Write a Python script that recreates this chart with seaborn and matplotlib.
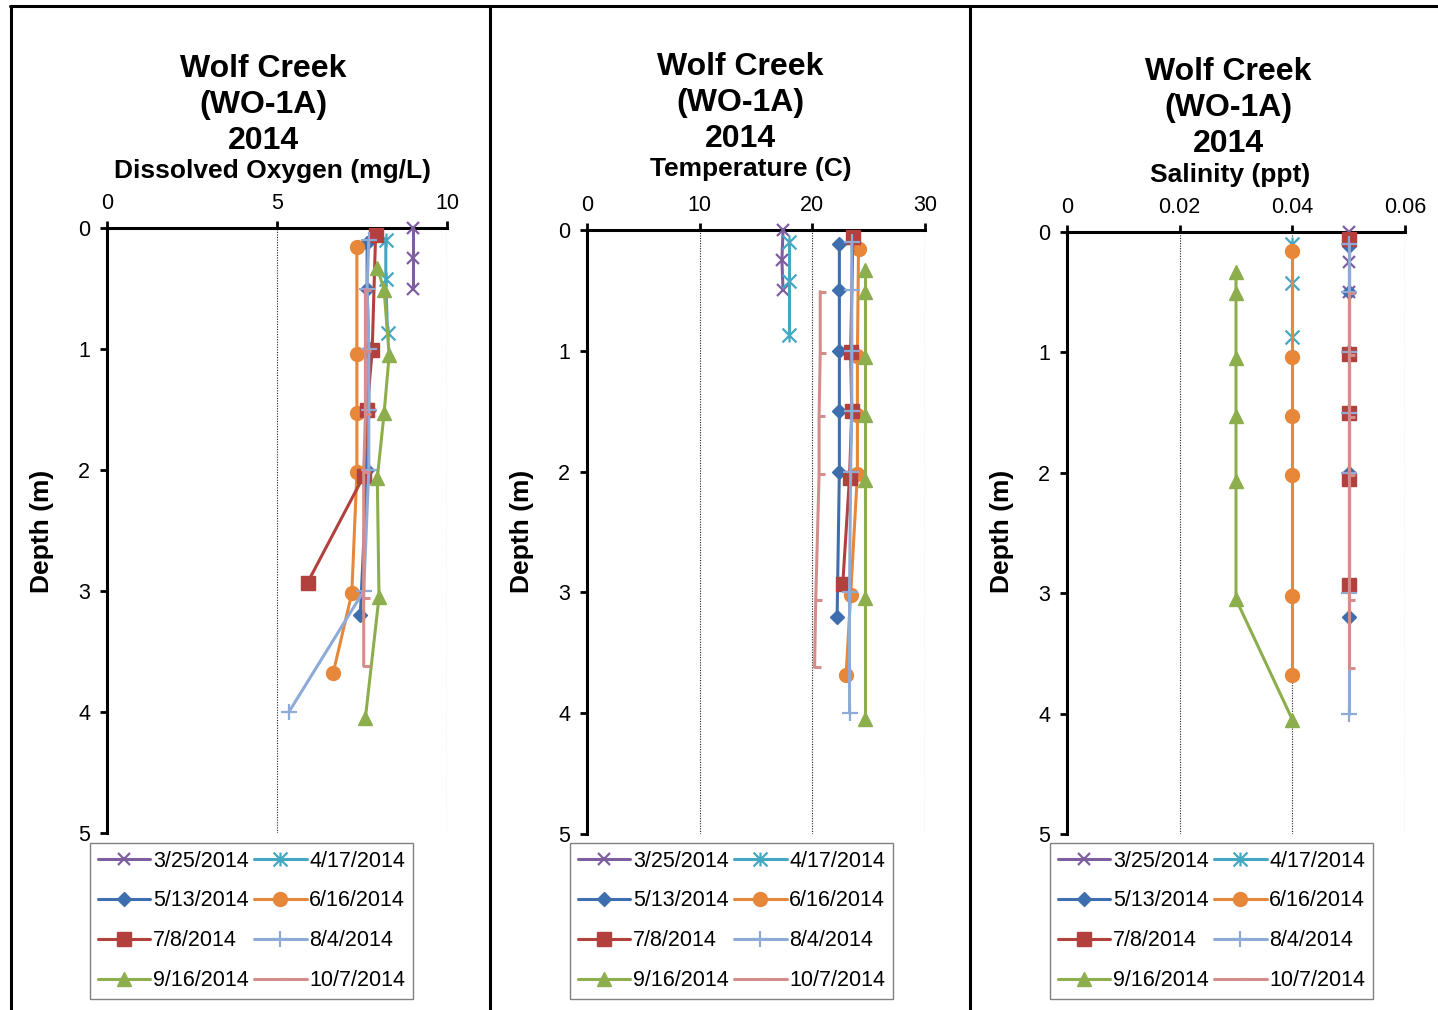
import matplotlib
matplotlib.use("Agg")
import matplotlib.pyplot as plt
from matplotlib.path import Path
from matplotlib.lines import Line2D
import seaborn as sns

# ---- sampling dates ----
dates = ["3/25/2014", "4/17/2014", "5/13/2014", "6/16/2014",
         "7/8/2014", "8/4/2014", "9/16/2014", "10/7/2014"]

# ---- sample depths (m) for each date ----
depth_0325 = [0.0, 0.25, 0.5]
depth_0417 = [0.1, 0.42, 0.87]
depth_0513 = [0.12, 0.5, 1.0, 1.5, 2.0, 3.2]
depth_0616 = [0.16, 1.04, 1.53, 2.02, 3.02, 3.68]
depth_0708 = [0.06, 1.01, 1.5, 2.05, 2.93]
depth_0804 = [0.1, 0.5, 1.0, 1.5, 2.0, 3.0, 4.0]
depth_0916 = [0.33, 0.51, 1.05, 1.53, 2.07, 3.05, 4.05]
depth_1007 = [0.51, 1.02, 1.54, 2.02, 3.06, 3.62]

# ---- dissolved oxygen (mg/L) ----
do_0325 = [9.0, 9.0, 9.0]
do_0417 = [8.2, 8.2, 8.25]
do_0513 = [7.65, 7.65, 7.7, 7.7, 7.65, 7.45]
do_0616 = [7.35, 7.35, 7.35, 7.35, 7.2, 6.65]
do_0708 = [7.9, 7.8, 7.65, 7.55, 5.9]
do_0804 = [7.7, 7.65, 7.7, 7.7, 7.7, 7.55, 5.35]
do_0916 = [7.95, 8.15, 8.3, 8.15, 7.95, 8.0, 7.6]
do_1007 = [7.6, 7.6, 7.6, 7.55, 7.55, 7.55]

# ---- temperature (C) ----
temp_0325 = [17.4, 17.3, 17.4]
temp_0417 = [17.9, 17.9, 17.9]
temp_0513 = [22.4, 22.4, 22.4, 22.4, 22.4, 22.2]
temp_0616 = [24.1, 24.0, 24.0, 24.0, 23.4, 23.0]
temp_0708 = [23.6, 23.4, 23.5, 23.3, 22.7]
temp_0804 = [23.5, 23.5, 23.5, 23.5, 23.4, 23.3, 23.3]
temp_0916 = [24.7, 24.7, 24.7, 24.7, 24.7, 24.7, 24.7]
temp_1007 = [20.7, 20.7, 20.6, 20.6, 20.3, 20.2]

# ---- salinity (ppt) ----
sal_0325 = [0.05, 0.05, 0.05]
sal_0417 = [0.04, 0.04, 0.04]
sal_0513 = [0.05, 0.05, 0.05, 0.05, 0.05, 0.05]
sal_0616 = [0.04, 0.04, 0.04, 0.04, 0.04, 0.04]
sal_0708 = [0.05, 0.05, 0.05, 0.05, 0.05]
sal_0804 = [0.05, 0.05, 0.05, 0.05, 0.05, 0.05, 0.05]
sal_0916 = [0.03, 0.03, 0.03, 0.03, 0.03, 0.03, 0.04]
sal_1007 = [0.05, 0.05, 0.05, 0.05, 0.05, 0.05]

# ---- axis ticks ----
depth_ticks = [0, 1, 2, 3, 4, 5]
do_ticks = [0, 5, 10]
do_tick_labels = ["0", "5", "10"]
temp_ticks = [0, 10, 20, 30]
temp_tick_labels = ["0", "10", "20", "30"]
sal_ticks = [0, 0.02, 0.04, 0.06]
sal_tick_labels = ["0", "0.02", "0.04", "0.06"]

site_title = "Wolf Creek\n(WO-1A)\n2014"
panel_labels = ["Dissolved Oxygen (mg/L)", "Temperature (C)", "Salinity (ppt)"]
depth_label = "Depth (m)"

depths = [depth_0325, depth_0417, depth_0513, depth_0616,
          depth_0708, depth_0804, depth_0916, depth_1007]
do_vals = [do_0325, do_0417, do_0513, do_0616, do_0708, do_0804, do_0916, do_1007]
temp_vals = [temp_0325, temp_0417, temp_0513, temp_0616,
             temp_0708, temp_0804, temp_0916, temp_1007]
sal_vals = [sal_0325, sal_0417, sal_0513, sal_0616,
            sal_0708, sal_0804, sal_0916, sal_1007]

# ---- styling ----
sns.set_theme(style="white")
plt.rcParams["font.family"] = ["Liberation Sans", "DejaVu Sans"]
plt.rcParams["text.color"] = "black"
plt.rcParams["xtick.color"] = "black"
plt.rcParams["ytick.color"] = "black"
plt.rcParams["legend.labelcolor"] = "black"

star = Path([(-1, -1), (1, 1), (-1, 1), (1, -1), (0, -1), (0, 1)],
            [Path.MOVETO, Path.LINETO, Path.MOVETO, Path.LINETO,
             Path.MOVETO, Path.LINETO])
dash = Path([(-0.2, 0), (1, 0)], [Path.MOVETO, Path.LINETO])

colors = ["#7D5FA0", "#45A7C2", "#3F6EAE", "#E7873A",
          "#B2403D", "#8EABD8", "#8DAE4C", "#D38E8C"]
markers = ["x", star, "D", "o", "s", "+", "^", dash]
msizes = [9, 10, 7.5, 10, 10, 11, 10, 9]
mews = [1.6, 1.6, 1, 1, 1, 1.6, 1, 2.2]

W, H = 1438, 1010
fig = plt.figure(figsize=(W / 100, H / 100), dpi=100)
fig.patch.set_facecolor("white")


def px_axes(left, top, right, bottom):
    return fig.add_axes([left / W, 1 - bottom / H, (right - left) / W, (bottom - top) / H])


panels = [
    dict(box=(107, 228, 447, 833), vals=do_vals, xlim=(0, 10), ticks=do_ticks,
         labels=do_tick_labels, title_xy=(263, 105), lab_xy=(273, 171),
         ylab_x=42, leg_xy=(90, 843)),
    dict(box=(587, 230, 925, 834), vals=temp_vals, xlim=(0, 30), ticks=temp_ticks,
         labels=temp_tick_labels, title_xy=(740, 103), lab_xy=(751, 169),
         ylab_x=522, leg_xy=(570, 843)),
    dict(box=(1067, 232, 1405, 834), vals=sal_vals, xlim=(0, 0.06), ticks=sal_ticks,
         labels=sal_tick_labels, title_xy=(1228, 108), lab_xy=(1230, 175),
         ylab_x=1002, leg_xy=(1050, 843)),
]

for n, p in enumerate(panels):
    ax = px_axes(*p["box"])
    ax.set_facecolor("white")
    for i, date in enumerate(dates):
        sns.lineplot(x=p["vals"][i], y=depths[i], ax=ax, sort=False, estimator=None,
                     color=colors[i], linewidth=2.2, marker=markers[i],
                     markersize=msizes[i], markeredgecolor=colors[i],
                     markerfacecolor=colors[i], markeredgewidth=mews[i],
                     clip_on=False, zorder=3 + i)
    ax.set_xlim(*p["xlim"])
    ax.set_ylim(5, 0)
    ax.set_xticks(p["ticks"])
    ax.set_xticklabels(p["labels"])
    ax.set_yticks(depth_ticks)
    ax.set_yticklabels([str(t) for t in depth_ticks])
    ax.xaxis.tick_top()
    ax.set_xlabel("")
    ax.set_ylabel("")
    for side in ["right", "bottom"]:
        ax.spines[side].set_visible(False)
    for side in ["left", "top"]:
        ax.spines[side].set_visible(True)
        ax.spines[side].set_color("black")
        ax.spines[side].set_linewidth(2.2)
        ax.spines[side].set_zorder(2)
    ax.grid(True, axis="x", color="#202020", linestyle=(0, (1, 1.3)), linewidth=0.8)
    ax.grid(False, axis="y")
    ax.tick_params(axis="both", direction="out", length=5, width=2, color="black",
                   labelsize=15.5, labelcolor="black")
    ax.tick_params(axis="x", pad=5, top=True, bottom=False)
    ax.tick_params(axis="y", pad=7, left=True)

    tx, ty = p["title_xy"]
    fig.text(tx / W, 1 - ty / H, site_title, ha="center", va="center", color="black",
             fontsize=23, fontweight="bold", linespacing=1.25, multialignment="center")
    lx, ly = p["lab_xy"]
    fig.text(lx / W, 1 - ly / H, panel_labels[n], ha="center", color="black",
             va="center", fontsize=19, fontweight="bold")
    fig.text(p["ylab_x"] / W, 1 - 531 / H, depth_label, ha="center", va="center",
             rotation=90, fontsize=19, fontweight="bold", color="black")

    # legend: two columns, read row by row
    handles = [Line2D([], [], color=colors[i], linewidth=2.2, marker=markers[i],
                      markersize=msizes[i], markeredgecolor=colors[i],
                      markerfacecolor=colors[i], markeredgewidth=mews[i])
               for i in range(len(dates))]
    order = [0, 2, 4, 6, 1, 3, 5, 7]
    gx, gy = p["leg_xy"]
    leg = fig.legend([handles[k] for k in order], [dates[k] for k in order],
                     ncol=2, loc="upper left", bbox_to_anchor=(gx / W, 1 - gy / H),
                     bbox_transform=fig.transFigure, fontsize=15.5, frameon=True,
                     fancybox=False, edgecolor="#808080", framealpha=1,
                     handlelength=2.45, handletextpad=0.12, columnspacing=0.25,
                     labelspacing=0.88, borderpad=0.35, borderaxespad=0)
    leg.get_frame().set_linewidth(1.0)

# panel frames
frame_kw = dict(transform=fig.transFigure, color="black", linewidth=2.2)
fig.add_artist(Line2D([10 / W, 1], [1 - 6 / H, 1 - 6 / H], **frame_kw))
for xpx in [11, 490, 970]:
    fig.add_artist(Line2D([xpx / W, xpx / W], [1 - 6 / H, 0], **frame_kw))

fig.savefig("out.png", dpi=100, facecolor="white")
